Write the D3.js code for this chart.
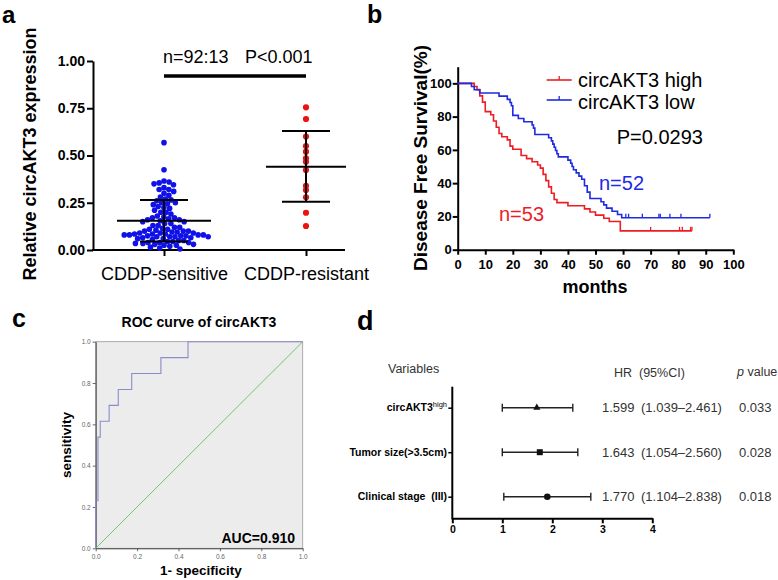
<!DOCTYPE html>
<html><head><meta charset="utf-8">
<script src="https://cdn.jsdelivr.net/npm/d3@7"></script>
<style>
body{margin:0;background:#fff}
svg{display:block}
text{font-family:"Liberation Sans",Arial,Helvetica,sans-serif}
</style>
</head><body>
<svg id="chart" width="778" height="580"></svg>
<script>
// ---------- Panel a data ----------
const groupsA = ["CDDP-sensitive", "CDDP-resistant"];
const sensitiveVals = [0.568,0.425,0.365,0.36,0.355,0.35,0.345,0.33,0.32,0.32,0.31,0.30,0.29,0.28,0.27,0.265,0.26,0.25,0.25,0.245,
  0.24,0.23,0.225,0.22,0.21,0.20,0.20,0.19,0.18,0.175,0.17,0.17,0.165,0.16,0.16,0.155,0.15,0.15,0.14,0.14,0.13,0.13,
  0.12,0.12,0.115,0.11,0.11,0.105,0.10,0.10,0.10,0.095,0.095,0.09,0.09,0.09,0.085,0.085,0.085,0.08,0.08,0.08,0.08,0.075,0.075,0.075,0.07,0.07,0.07,0.07,0.065,0.065,0.06,0.06,
  0.055,0.05,0.05,0.045,0.045,0.04,0.04,0.04,0.035,0.035,0.03,0.03,0.025,0.025,0.02,0.015,0.01,0.005];
const resistantVals = [0.755,0.693,0.60,0.55,0.52,0.485,0.467,0.423,0.34,0.317,0.279,0.197,0.127];
const groupMeans = [0.155, 0.44];
const groupUpper = [0.265, 0.63];
const groupLower = [0.045, 0.255];
const yTicksA = [0, 0.25, 0.5, 0.75, 1.0];

// ---------- Panel b data ----------
const kmLabels = ["circAKT3 high", "circAKT3 low"];
const highN = 53;
const highEvents = [6,7,8,8,9,9,10,10,10,12,13,13,14,14,15,15,16,18,19,19,20,23,23,25,27,29,30,31,31,32,32,33,33,34,34,35,35,36,40,46,48,50,53,55,59,59,59];
const highCensored = [70,80.5,81.5,84.5,85,85];
const lowN = 52;
const lowEvents = [5,6,8,15,18,19,19.5,20,20,20,22,24,27,27.5,28,28,33,34,34.5,35,35.5,36,36.5,40,41,41.5,42,43,44,45,46,46,47,47,48,48,52,53,54,56,58,59.5];
const lowCensored = [61,62,67,73,73.5,77,81,91.5,91.5,91.5];
const kmXTicks = [0,10,20,30,40,50,60,70,80,90,100];
const kmYTicks = [0,20,40,60,80,100];

// ---------- Panel c data ----------
const rocFPR = [0,0,0.011,0.011,0.022,0.022,0.065,0.065,0.109,0.109,0.174,0.174,0.315,0.315,0.446,0.446,1];
const rocTPR = [0,0.231,0.231,0.538,0.538,0.615,0.615,0.692,0.692,0.769,0.769,0.846,0.846,0.923,0.923,1,1];
const rocTicks = [0,0.2,0.4,0.6,0.8,1.0];

// ---------- Panel d data ----------
const forestVars = ["circAKT3", "Tumor size(>3.5cm)", "Clinical stage\u00a0\u00a0(III)"];
const forestPoint = [1.69, 1.75, 1.90];
const forestLow = [1.0, 1.0, 1.03];
const forestHigh = [2.41, 2.51, 2.77];
const forestShapes = ["triangle", "square", "circle"];
const forestHR = ["1.599", "1.643", "1.770"];
const forestCI = ["(1.039\u20132.461)", "(1.054\u20132.560)", "(1.104\u20132.838)"];
const forestP = ["0.033", "0.028", "0.018"];
const forestTicks = [0,1,2,3,4];

const svg = d3.select("#chart");
svg.append("rect").attr("width",778).attr("height",580).attr("fill","#fff");

function styleAxis(g, w, fs, bold){
  g.selectAll("path.domain").attr("stroke","#000").attr("stroke-width",w);
  g.selectAll(".tick line").attr("stroke","#000").attr("stroke-width",w);
  g.selectAll(".tick text").attr("fill","#000").attr("font-size",fs)
   .attr("font-weight",bold?"bold":"normal")
   .attr("font-family",'"Liberation Sans",Arial,sans-serif');
}

// panel labels
[["a",2,23,24],["b",367,23,25],["c",12,327,25],["d",357,330,27]].forEach(([t,x,y,s])=>{
  svg.append("text").attr("x",x).attr("y",y).attr("font-size",s).attr("font-weight","bold").text(t);
});

// ================= Panel a =================
(function(){
  const yA = d3.scaleLinear().domain([0,1]).range([250,61]);
  const xA = d3.scalePoint().domain(groupsA).range([164,306]);
  const gA = svg.append("g");

  const ya = gA.append("g").attr("transform","translate(93,0)")
    .call(d3.axisLeft(yA).tickValues(yTicksA).tickFormat(d3.format(".2f")).tickSize(6).tickSizeOuter(0).tickPadding(2));
  styleAxis(ya, 2, 14, true);

  const xa = gA.append("g").attr("transform","translate(0,250)")
    .call(d3.axisBottom(xA).tickSize(6).tickPadding(11));
  xa.select(".domain").remove();
  styleAxis(xa, 2, 18, false);
  gA.append("line").attr("x1",92).attr("x2",345).attr("y1",250).attr("y2",250)
    .attr("stroke","#000").attr("stroke-width",2);

  gA.append("text").attr("transform","translate(36,154) rotate(-90)")
    .attr("text-anchor","middle").attr("font-size",18).attr("font-weight","bold")
    .text("Relative circAKT3 expression");

  function swarm(vals, r){
    const pts = vals.map(v=>({v, y:yA(v)})).sort((a,b)=>b.v-a.v);
    const placed=[]; const d2=(2*r)*(2*r);
    pts.forEach(p=>{
      const near = placed.filter(q=>Math.abs(q.y-p.y)<2*r);
      const cands=[0];
      near.forEach(q=>{const dx=Math.sqrt(d2-(q.y-p.y)**2); cands.push(q.x+dx,q.x-dx);});
      cands.sort((a,b)=>Math.abs(a)-Math.abs(b));
      for(const c of cands){
        if(near.every(q=>(q.x-c)**2+(q.y-p.y)**2>=d2-0.01)){p.x=c;break;}
      }
      placed.push(p);
    });
    return placed;
  }
  const blue = swarm(sensitiveVals, 2.6);
  gA.append("g").selectAll("circle").data(blue).join("circle")
    .attr("cx",d=>xA(groupsA[0])+d.x).attr("cy",d=>d.y).attr("r",2.8).attr("fill","#1010e8");
  const red = swarm(resistantVals, 1.6);
  gA.append("g").selectAll("circle").data(red).join("circle")
    .attr("cx",d=>xA(groupsA[1])+d.x).attr("cy",d=>d.y).attr("r",3.1).attr("fill","#ee1111");

  const halfMean=[47,40], halfSD=[24,24];
  groupsA.forEach((g,i)=>{
    const cx=xA(g);
    const s = gA.append("g").attr("stroke","#000").attr("stroke-width",2);
    s.append("line").attr("x1",cx-halfMean[i]).attr("x2",cx+halfMean[i]).attr("y1",yA(groupMeans[i])).attr("y2",yA(groupMeans[i]));
    s.append("line").attr("x1",cx-halfSD[i]).attr("x2",cx+halfSD[i]).attr("y1",yA(groupUpper[i])).attr("y2",yA(groupUpper[i]));
    s.append("line").attr("x1",cx-halfSD[i]).attr("x2",cx+halfSD[i]).attr("y1",yA(groupLower[i])).attr("y2",yA(groupLower[i]));
    s.append("line").attr("x1",cx).attr("x2",cx).attr("y1",yA(groupUpper[i])).attr("y2",yA(groupLower[i]));
  });

  gA.append("line").attr("x1",xA(groupsA[0])).attr("x2",xA(groupsA[1])).attr("y1",76).attr("y2",76)
    .attr("stroke","#000").attr("stroke-width",3.5);
  gA.append("text").attr("x",163).attr("y",63).attr("font-size",18).text("n=92:13");
  gA.append("text").attr("x",245).attr("y",63).attr("font-size",18).text("P<0.001");
})();

// ================= Panel b =================
(function(){
  const xB = d3.scaleLinear().domain([0,100]).range([457.7,733.3]);
  const yB = d3.scaleLinear().domain([0,110]).range([249.7,66.7]);
  const gB = svg.append("g");

  const ya = gB.append("g").attr("transform","translate(457.7,0)")
    .call(d3.axisLeft(yB).tickValues(kmYTicks).tickSize(5).tickSizeOuter(0).tickPadding(1));
  styleAxis(ya, 2, 13, true);
  const xa = gB.append("g").attr("transform","translate(0,249.7)")
    .call(d3.axisBottom(xB).tickValues(kmXTicks).tickSize(5).tickSizeOuter(0).tickPadding(5));
  styleAxis(xa, 2, 13, true);

  gB.append("text").attr("transform","translate(427,158) rotate(-90)")
    .attr("text-anchor","middle").attr("font-size",19).attr("font-weight","bold")
    .text("Disease Free Survival(%)");
  gB.append("text").attr("x",595).attr("y",293).attr("text-anchor","middle")
    .attr("font-size",18).attr("font-weight","bold").text("months");

  function km(n, events, censored){
    const times = Array.from(new Set(events.concat(censored))).sort((a,b)=>a-b);
    let atRisk=n, s=1; const pts=[[0,100]]; const marks=[];
    times.forEach(t=>{
      const d=events.filter(e=>e===t).length, c=censored.filter(e=>e===t).length;
      if(d>0){ s*=(1-d/atRisk); pts.push([t,s*100]); }
      if(c>0) marks.push([t,s*100]);
      atRisk-=d+c;
    });
    pts.push([times[times.length-1], s*100]);
    return {pts, marks};
  }
  const series = [
    {k:km(highN,highEvents,highCensored), color:"#ee1c24"},
    {k:km(lowN,lowEvents,lowCensored), color:"#1f2be0"}
  ];
  const line = d3.line().x(d=>xB(d[0])).y(d=>yB(d[1])).curve(d3.curveStepAfter);
  series.forEach(s=>{
    gB.append("path").attr("d",line(s.k.pts)).attr("fill","none")
      .attr("stroke",s.color).attr("stroke-width",1.6);
    gB.append("g").selectAll("line").data(s.k.marks).join("line")
      .attr("x1",d=>xB(d[0])).attr("x2",d=>xB(d[0]))
      .attr("y1",d=>yB(d[1])-4).attr("y2",d=>yB(d[1]))
      .attr("stroke",s.color).attr("stroke-width",1.3);
  });

  [[80,87.3],[100,109.3]].forEach(([ly,ty],i)=>{
    const c = series[i].color;
    gB.append("line").attr("x1",546.7).attr("x2",571.7).attr("y1",ly).attr("y2",ly).attr("stroke",c).attr("stroke-width",1.6);
    gB.append("line").attr("x1",559.2).attr("x2",559.2).attr("y1",ly-4).attr("y2",ly).attr("stroke",c).attr("stroke-width",1.3);
    gB.append("text").attr("x",578).attr("y",ty).attr("font-size",20).text(kmLabels[i]);
  });
  gB.append("text").attr("x",616.7).attr("y",144).attr("font-size",20).text("P=0.0293");
  gB.append("text").attr("x",599).attr("y",190).attr("font-size",20).attr("fill","#1f2be0").text("n=52");
  gB.append("text").attr("x",499).attr("y",220.7).attr("font-size",20).attr("fill","#ee1c24").text("n=53");
})();

// ================= Panel c =================
(function(){
  const xC = d3.scaleLinear().domain([0,1]).range([95.7,302.7]);
  const yC = d3.scaleLinear().domain([0,1]).range([548.3,341.7]);
  const gC = svg.append("g");
  gC.append("rect").attr("x",xC(0)).attr("y",yC(1)).attr("width",xC(1)-xC(0)).attr("height",yC(0)-yC(1))
    .attr("fill","#ececec").attr("stroke","#9a9a9a").attr("stroke-width",0.8);

  const ya = gC.append("g").attr("transform",`translate(${xC(0)},0)`)
    .call(d3.axisLeft(yC).tickValues(rocTicks).tickFormat(d3.format(".1f")).tickSize(3).tickSizeOuter(0).tickPadding(2));
  const xa = gC.append("g").attr("transform",`translate(0,${yC(0)})`)
    .call(d3.axisBottom(xC).tickValues(rocTicks).tickFormat(d3.format(".1f")).tickSize(3).tickSizeOuter(0).tickPadding(3));
  [ya,xa].forEach(g=>{
    g.selectAll("path.domain").attr("stroke","#444").attr("stroke-width",1);
    g.selectAll(".tick line").attr("stroke","#444").attr("stroke-width",0.8);
    g.selectAll(".tick text").attr("fill","#666").attr("font-size",6.5)
      .attr("font-family",'"DejaVu Sans Mono","Liberation Mono",monospace');
  });

  gC.append("line").attr("x1",xC(0)).attr("y1",yC(0)).attr("x2",xC(1)).attr("y2",yC(1))
    .attr("stroke","#74c476").attr("stroke-width",1);
  const rocPts = rocFPR.map((f,i)=>[f,rocTPR[i]]);
  gC.append("path").attr("d",d3.line().x(d=>xC(d[0])).y(d=>yC(d[1]))(rocPts))
    .attr("fill","none").attr("stroke","#8a8ccc").attr("stroke-width",1.1);

  gC.append("text").attr("x",199).attr("y",327).attr("text-anchor","middle")
    .attr("font-size",14).attr("font-weight","bold").text("ROC curve of circAKT3");
  gC.append("text").attr("transform","translate(71,445) rotate(-90)").attr("text-anchor","middle")
    .attr("font-size",13.5).attr("font-weight","bold").text("sensitivity");
  gC.append("text").attr("x",201).attr("y",575).attr("text-anchor","middle")
    .attr("font-size",13.5).attr("font-weight","bold").text("1- specificity");
  gC.append("text").attr("x",295).attr("y",543.3).attr("text-anchor","end")
    .attr("font-size",14).attr("font-weight","bold").text("AUC=0.910");
})();

// ================= Panel d =================
(function(){
  const xD = d3.scaleLinear().domain([0,4]).range([452.3,652.3]);
  const yD = d3.scalePoint().domain(forestVars).range([407.7,496.7]);
  const gD = svg.append("g");

  const xa = gD.append("g").attr("transform","translate(0,518.3)")
    .call(d3.axisBottom(xD).tickValues(forestTicks).tickFormat(d3.format("d")).tickSize(5).tickSizeOuter(0).tickPadding(2));
  styleAxis(xa, 2, 10.5, true);
  const ya = gD.append("g").attr("transform","translate(452.3,0)")
    .call(d3.axisLeft(yD).tickSize(4).tickSizeOuter(0).tickFormat(""));
  ya.select(".domain").remove();
  styleAxis(ya, 1.5, 10, true);
  gD.append("line").attr("x1",452.3).attr("x2",452.3).attr("y1",386.7).attr("y2",519.3)
    .attr("stroke","#000").attr("stroke-width",2);

  forestVars.forEach((v,i)=>{
    const t = gD.append("text").attr("x",447).attr("y",yD(v)+3.5).attr("text-anchor","end")
      .attr("font-size",10.5).attr("font-weight","bold");
    t.append("tspan").text(v);
    if(i===0) t.append("tspan").attr("dy",-4).attr("font-size",7.5).attr("font-weight","normal").text("high");
  });

  forestVars.forEach((v,i)=>{
    const y=yD(v);
    const g=gD.append("g").attr("stroke","#222").attr("stroke-width",1.4);
    g.append("line").attr("x1",xD(forestLow[i])).attr("x2",xD(forestHigh[i])).attr("y1",y).attr("y2",y);
    g.append("line").attr("x1",xD(forestLow[i])).attr("x2",xD(forestLow[i])).attr("y1",y-4).attr("y2",y+4);
    g.append("line").attr("x1",xD(forestHigh[i])).attr("x2",xD(forestHigh[i])).attr("y1",y-4).attr("y2",y+4);
    const sym = forestShapes[i]==="triangle"?d3.symbolTriangle:forestShapes[i]==="square"?d3.symbolSquare:d3.symbolCircle;
    const size = forestShapes[i]==="triangle"?22:forestShapes[i]==="square"?36:34;
    gD.append("path").attr("d",d3.symbol().type(sym).size(size)())
      .attr("transform",`translate(${xD(forestPoint[i])},${y})`).attr("fill","#111");
    gD.append("text").attr("x",602).attr("y",y+4.5).attr("font-size",13).attr("fill","#333").text(forestHR[i]);
    gD.append("text").attr("x",641).attr("y",y+4.5).attr("font-size",13).attr("fill","#333").text(forestCI[i]);
    gD.append("text").attr("x",739).attr("y",y+4.5).attr("font-size",13).attr("fill","#333").text(forestP[i]);
  });

  gD.append("text").attr("x",388).attr("y",373).attr("font-size",12.5).attr("fill","#333").text("Variables");
  gD.append("text").attr("x",614).attr("y",377).attr("font-size",12.5).attr("fill","#333").text("HR\u00a0\u00a0(95%CI)");
  const pv = gD.append("text").attr("x",737).attr("y",376).attr("font-size",12.5).attr("fill","#333");
  pv.append("tspan").attr("font-style","italic").text("p");
  pv.append("tspan").text(" value");
})();
</script>
</body></html>
